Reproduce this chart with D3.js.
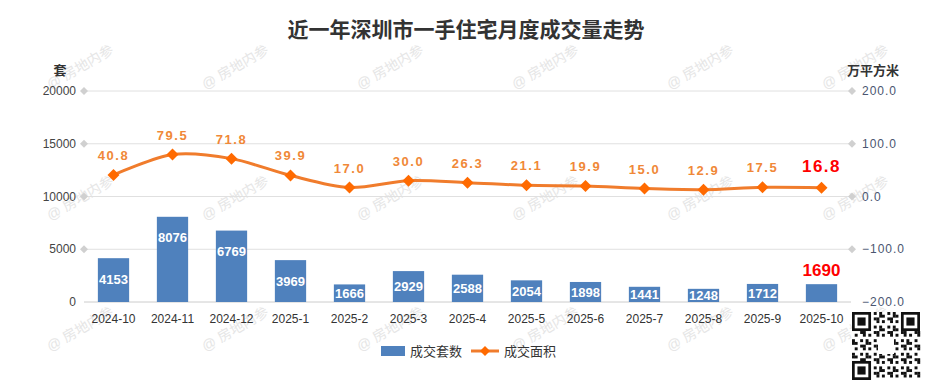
<!DOCTYPE html>
<html><head><meta charset="utf-8">
<script src="https://cdn.jsdelivr.net/npm/d3@7/dist/d3.min.js"></script>
<style>body{margin:0;background:#fff}svg{display:block;font-family:"Liberation Sans","Noto Sans CJK SC",sans-serif}</style>
</head><body><svg id="c" width="932" height="388"></svg>
<script>
const categories = ["2024-10","2024-11","2024-12","2025-1","2025-2","2025-3","2025-4","2025-5","2025-6","2025-7","2025-8","2025-9","2025-10"];
const units = [4153,8076,6769,3969,1666,2929,2588,2054,1898,1441,1248,1712,1690];
const area = [40.8,79.5,71.8,39.9,17.0,30.0,26.3,21.1,19.9,15.0,12.9,17.5,16.8];
const leftTicks = [0,5000,10000,15000,20000];
const rightTicks = [-200,-100,0,100,200];
const title = "近一年深圳市一手住宅月度成交量走势";
const legendNames = ["成交套数","成交面积"];

const svg = d3.select("#c");
const L = 84, R = 851, T = 91, B = 302;
const x = d3.scaleBand().domain(categories).range([L, R]).paddingInner(0.47).paddingOuter(0.235);
const xc = d => x(d) + x.bandwidth()/2;
const yL = d3.scaleLinear().domain([0,20000]).range([B,T]);
const yR = d3.scaleLinear().domain([-200,200]).range([B,T]);

// watermarks
const wm = svg.append("g");
for (let j=0;j<3;j++) for (let i=0;i<6;i++) {
  wm.append("text").attr("transform",`translate(${80+155*i},${67+131*j}) rotate(-30)`)
    .attr("text-anchor","middle").attr("dy","0.35em").attr("fill","#e6e6e6")
    .style("font-size","14px").text("@ 房地内参");
}

// title
svg.append("text").attr("x",466).attr("y",37).attr("text-anchor","middle")
  .style("font-size","21px").style("font-weight","bold").attr("fill","#333").text(title);
svg.append("text").attr("x",60).attr("y",75).attr("text-anchor","middle")
  .style("font-size","13px").style("font-weight","bold").attr("fill","#333").text("套");
svg.append("text").attr("x",873).attr("y",75).attr("text-anchor","middle")
  .style("font-size","13px").style("font-weight","bold").attr("fill","#333").text("万平方米");

// grid
const g = svg.append("g");
leftTicks.forEach(t => {
  g.append("line").attr("x1",L).attr("x2",R).attr("y1",yL(t)).attr("y2",yL(t))
    .attr("stroke", t===0 ? "#ccc" : "#e0e0e0").attr("stroke-width",1);
});
const dia = (cx,cy,r) => `M${cx},${cy-r}L${cx+r},${cy}L${cx},${cy+r}L${cx-r},${cy}Z`;
leftTicks.filter(t=>t>0).forEach(t => g.append("path").attr("d",dia(L,yL(t),4)).attr("fill","#d0d0d0"));
rightTicks.filter(t=>t>-200).forEach(t => g.append("path").attr("d",dia(R+1,yR(t),4)).attr("fill","#d0d0d0"));

// axis labels
const ax = svg.append("g");
leftTicks.forEach(t => ax.append("text").attr("x",76).attr("y",yL(t)).attr("dy","0.35em")
  .attr("text-anchor","end").style("font-size","12px").attr("fill","#444").text(t));
rightTicks.forEach(t => ax.append("text").attr("x",862).attr("y",yR(t)).attr("dy","0.35em")
  .attr("text-anchor","start").style("font-size","12px").style("letter-spacing","1px").attr("fill","#4a5570").text(d3.format(".1f")(t)));
categories.forEach(c => ax.append("text").attr("x",xc(c)).attr("y",323).attr("text-anchor","middle")
  .style("font-size","12px").attr("fill","#333").text(c));

// bars
const bars = svg.append("g");
bars.selectAll("rect").data(units).join("rect")
  .attr("x",(d,i)=>x(categories[i])).attr("width",x.bandwidth())
  .attr("y",d=>yL(d)).attr("height",d=>B-yL(d)).attr("fill","#4f81bd");
bars.selectAll("text").data(units).join("text")
  .attr("x",(d,i)=>xc(categories[i]))
  .attr("y",(d,i)=> i===units.length-1 ? yL(d)-8 : Math.min(yL(d)+21,(yL(d)+B)/2))
  .attr("dy", (d,i)=> i===units.length-1 ? "0" : "0.36em")
  .attr("text-anchor","middle")
  .style("font-size",(d,i)=> i===units.length-1 ? "17px" : "13px").style("font-weight","bold")
  .attr("fill",(d,i)=> i===units.length-1 ? "#ff0000" : "#fff").text(d=>d);

// line
const line = d3.line().x((d,i)=>xc(categories[i])).y(d=>yR(d)).curve(d3.curveCardinal.tension(0.1));
svg.append("path").datum(area).attr("d",line).attr("fill","none").attr("stroke","#f07c2c").attr("stroke-width",3);
svg.append("g").selectAll("path").data(area).join("path")
  .attr("d",(d,i)=>dia(xc(categories[i]),yR(d),6)).attr("fill","#ff6a00");
svg.append("g").selectAll("text").data(area).join("text")
  .attr("x",(d,i)=>xc(categories[i])).attr("y",(d,i)=> yR(d) - (i===area.length-1 ? 16 : 15))
  .attr("text-anchor","middle").style("font-weight","bold")
  .style("font-size",(d,i)=> i===area.length-1 ? "17px" : "13px")
  .style("letter-spacing","1.5px")
  .attr("fill",(d,i)=> i===area.length-1 ? "#ff0000" : "#f08838").text(d=>d3.format(".1f")(d));

// legend
const lg = svg.append("g");
lg.append("rect").attr("x",381).attr("y",346).attr("width",24).attr("height",10).attr("fill","#4f81bd");
lg.append("text").attr("x",410).attr("y",356).style("font-size","13px").attr("fill","#333").text(legendNames[0]);
lg.append("line").attr("x1",471).attr("x2",499).attr("y1",351).attr("y2",351).attr("stroke","#f07c2c").attr("stroke-width",3);
lg.append("path").attr("d",dia(485,351,5)).attr("fill","#ff6a00");
lg.append("text").attr("x",504).attr("y",356).style("font-size","13px").attr("fill","#333").text(legendNames[1]);

// QR-like decoration
const qr = svg.append("g").attr("transform","translate(852,312)");
const n = 25, m = 68/n;
qr.append("rect").attr("width",68).attr("height",68).attr("fill","#fff");
for (let i=0;i<n;i++) for (let j=0;j<n;j++) {
  const inF = (a,b)=> i>=a && i<a+7 && j>=b && j<b+7;
  if (inF(0,0)||inF(0,n-7)||inF(n-7,0)) continue;
  if (((i*31 + j*17 + i*j*7) % 5) < 2) qr.append("rect").attr("x",j*m).attr("y",i*m).attr("width",m+0.2).attr("height",m+0.2).attr("fill","#111");
}
[[0,0],[0,n-7],[n-7,0]].forEach(([a,b])=>{
  qr.append("rect").attr("x",b*m).attr("y",a*m).attr("width",7*m).attr("height",7*m).attr("fill","#111");
  qr.append("rect").attr("x",(b+1)*m).attr("y",(a+1)*m).attr("width",5*m).attr("height",5*m).attr("fill","#fff");
  qr.append("rect").attr("x",(b+2)*m).attr("y",(a+2)*m).attr("width",3*m).attr("height",3*m).attr("fill","#111");
});
qr.append("rect").attr("x",26).attr("y",26).attr("width",16).attr("height",16).attr("fill","#fff");
</script></body></html>
